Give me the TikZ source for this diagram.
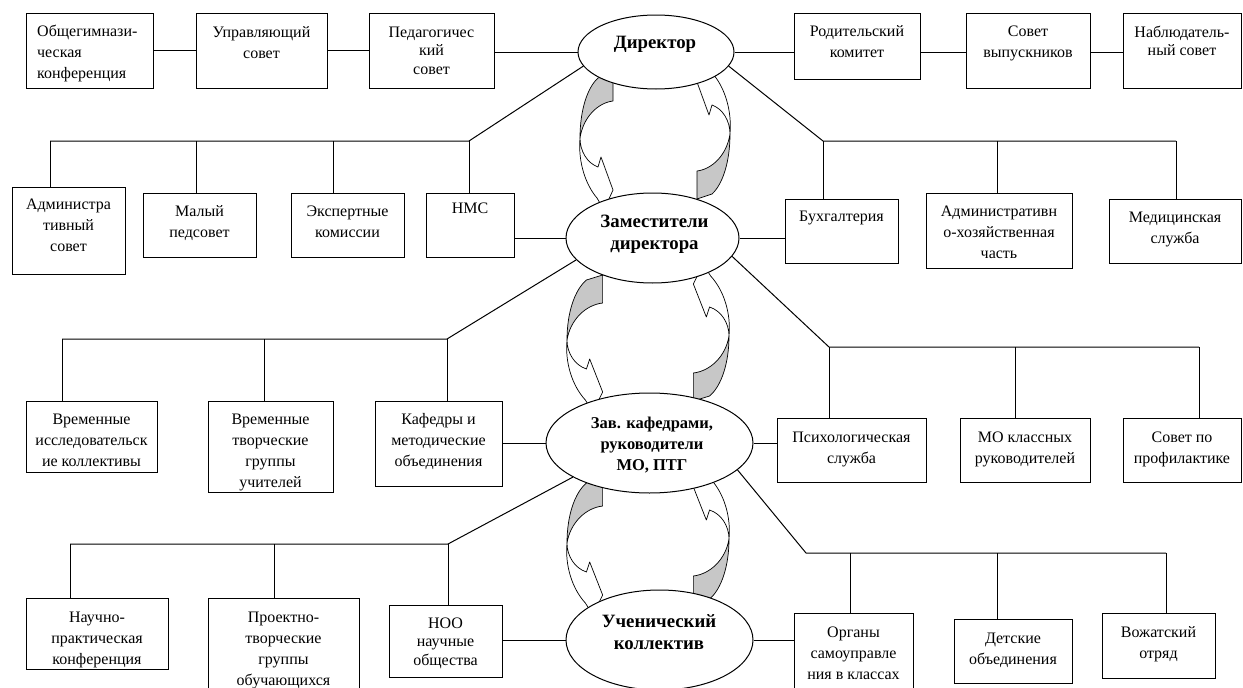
\documentclass[tikz,border=0pt]{standalone}
\usepackage{fontspec}
\setmainfont{Liberation Serif}
\usetikzlibrary{shapes.geometric}
\tikzset{
  box/.style={draw=black, line width=1pt, fill=white, inner sep=0pt},
  txt/.style={font=\fontsize{16}{21}\selectfont, align=center, inner sep=0pt, anchor=base},
  tighttxt/.style={font=\fontsize{16}{18.5}\selectfont, align=center, inner sep=0pt, anchor=base},
  ell/.style={draw=black, ellipse, line width=1pt, fill=white, inner sep=0pt},
  etxt/.style={font=\fontsize{18.8}{22}\selectfont\bfseries, align=center, inner sep=0pt, anchor=base},
  etxtsmall/.style={font=\fontsize{16.5}{21}\selectfont\bfseries, align=center, inner sep=0pt, anchor=base},
  link/.style={draw=black, line width=1pt},
  grayface/.style={draw=black, line width=0.7pt, fill=black!22, line join=round},
  whiteface/.style={draw=black, line width=0.7pt, fill=white, line join=round},
}
\newcommand\bx[5]{\node[box, minimum width={#4-#2}, minimum height={#5-#3}] (#1) at ({(#2+#4)/2},{(#3+#5)/2}) {};}
\newcommand\drop[4]{\coordinate (#1) at (#2,#3); \draw[link] (#1) -- (#1 |- #4.north);}
\newcommand\halfarrow{%
  \path[whiteface] (-75,2) .. controls (-77,25) and (-70,48) .. (-58,62) -- (-51,74) -- (-42,54) -- (-54,21) -- (-57,31) .. controls (-68,27) and (-75,15) .. cycle;
  \path[grayface] (-57,-58) -- (-42,-63) -- (-42,-35) .. controls (-58,-33) and (-72,-18) .. (-75,2) .. controls (-75,-25) and (-68,-48) .. cycle;}
\newcommand\arrowpair[3]{\begin{scope}[shift={(#1,#2)}, xscale=#3]\halfarrow\begin{scope}[rotate=180]\halfarrow\end{scope}\end{scope}}
\begin{document}
\begin{tikzpicture}[x=1pt,y=-1pt]
\useasboundingbox (0,0) rectangle (1243,688);
\clip (0,0) rectangle (1243,688);
% curved arrows
\arrowpair{655}{136}{1}
\arrowpair{648}{338}{1.08}
\arrowpair{648}{541}{1.08}
% ellipses
\node[ell, minimum width=156, minimum height=74] (E1) at (656,52) {};
\node[ell, minimum width=173, minimum height=90] (E2) at (652.5,238) {};
\node[ell, minimum width=207, minimum height=100] (E3) at (649.5,443) {};
\node[ell, minimum width=187, minimum height=100] (E4) at (659.5,640) {};
% boxes
\bx{b1}{26}{13}{153}{88}
\bx{b2}{196}{13}{327}{88}
\bx{b3}{369}{13}{494}{88}
\bx{r1}{794}{13}{920}{79}
\bx{r2}{966}{13}{1090}{88}
\bx{r3}{1123}{13}{1241}{88}
\bx{a1}{12}{187}{125}{274}
\bx{a2}{143}{193}{256}{257}
\bx{a3}{291}{193}{404}{257}
\bx{a4}{426}{193}{514}{257}
\bx{a5}{785}{199}{898}{263}
\bx{a6}{926}{193}{1072}{268}
\bx{a7}{1109}{199}{1241}{263}
\bx{c1}{26}{401}{157}{472}
\bx{c2}{208}{401}{333}{492}
\bx{c3}{375}{401}{502}{486}
\bx{c4}{777}{418}{926}{482}
\bx{c5}{960}{418}{1090}{482}
\bx{c6}{1123}{418}{1241}{482}
\bx{d1}{26}{598}{168}{669}
\bx{d2}{208}{598}{359}{700}
\bx{d3}{389}{605}{502}{677}
\bx{d4}{794}{613}{913}{700}
\bx{d5}{954}{619}{1072}{683}
\bx{d6}{1102}{613}{1215}{678}
% top row links
\draw[link] (b1.east) -- (b2.west);
\draw[link] (b2.east) -- (b3.west);
\draw[link] (E1.west -| b3.east) -- (E1.west);
\draw[link] (E1.east) -- (E1.east -| r1.west);
\draw[link] (E1.east -| r1.east) -- (E1.east -| r2.west);
\draw[link] (E1.east -| r2.east) -- (E1.east -| r3.west);
% row 2
\drop{v11}{50}{141}{a1} \drop{v12}{196}{141}{a2} \drop{v13}{333}{141}{a3} \drop{k1}{469}{141}{a4}
\draw[link] (E1.191) -- (k1) -- (v11);
\drop{k2}{823}{141}{a5} \drop{v22}{997}{141}{a6} \drop{v23}{1176}{141}{a7}
\draw[link] (E1.349) -- (k2) -- (v23);
\draw[link] (E2.west -| a4.east) -- (E2.west);
\draw[link] (E2.east) -- (E2.east -| a5.west);
% row 3
\drop{v31}{62}{339}{c1} \drop{v32}{264}{339}{c2} \drop{k3}{447}{339}{c3}
\draw[link] (E2.196) -- (k3) -- (v31);
\drop{k4}{829}{347}{c4} \drop{v42}{1015}{347}{c5} \drop{v43}{1199}{347}{c6}
\draw[link] (E2.347) -- (k4) -- (v43);
\draw[link] (E3.west -| c3.east) -- (E3.west);
\draw[link] (E3.east) -- (E3.east -| c4.west);
% row 4
\drop{v51}{70}{544}{d1} \drop{v52}{274}{544}{d2} \drop{k5}{448}{544}{d3}
\draw[link] (E3.204) -- (k5) -- (v51);
\coordinate (k6) at (806,553);
\drop{v61}{850}{553}{d4} \drop{v62}{997}{553}{d5} \drop{v63}{1166}{553}{d6}
\draw[link] (E3.343) -- (k6) -- (v63);
\draw[link] (E4.west -| d3.east) -- (E4.west);
\draw[link] (E4.east) -- (E4.east -| d4.west);
% ellipse texts (anchored at the baseline of the last line)
\node[etxt] (tE1) at (655,48) {Директор};
\node[etxt] (tE2) at (654.5,249) {Заместители\\директора};
\node[etxtsmall] (tE3) at (652,470) {Зав. кафедрами,\\руководители\\МО, ПТГ};
\node[etxt] (tE4) at (659,649) {Ученический\\коллектив};
% box texts (anchored at the baseline of the last line)
\node[txt, align=left, anchor=base west] (tb1) at (37,78) {Общегимнази-\\ческая\\конференция};
\node[txt] (tb2) at (261.5,58) {Управляющий\\совет};
\node[tighttxt] (tb3) at (431.5,74) {Педагогичес\\кий\\совет};
\node[txt] (tr1) at (857,57) {Родительский\\комитет};
\node[txt] (tr2) at (1028,57) {Совет\\выпускников};
\node[tighttxt] (tr3) at (1182,55.5) {Наблюдатель-\\ный совет};
\node[txt] (ta1) at (68.5,251) {Администра\\тивный\\совет};
\node[txt] (ta2) at (199.5,237) {Малый\\педсовет};
\node[txt] (ta3) at (347.5,237) {Экспертные\\комиссии};
\node[txt] (ta4) at (470,213) {НМС};
\node[txt] (ta5) at (841.5,221) {Бухгалтерия};
\node[txt] (ta6) at (999,258) {Административн\\о-хозяйственная\\часть};
\node[txt] (ta7) at (1175,243) {Медицинская\\служба};
\node[txt] (tc1) at (91.5,466) {Временные\\исследовательск\\ие коллективы};
\node[txt] (tc2) at (270.5,487) {Временные\\творческие\\группы\\учителей};
\node[txt] (tc3) at (438.5,466) {Кафедры и\\методические\\объединения};
\node[txt] (tc4) at (851.5,463) {Психологическая\\служба};
\node[txt] (tc5) at (1025,463) {МО классных\\руководителей};
\node[txt] (tc6) at (1182,463) {Совет по\\профилактике};
\node[txt] (td1) at (97,664) {Научно-\\практическая\\конференция};
\node[txt] (td2) at (283.5,685) {Проектно-\\творческие\\группы\\обучающихся};
\node[tighttxt] (td3) at (445.5,665) {НОО\\научные\\общества};
\node[txt] (td4) at (853.5,679) {Органы\\самоуправле\\ния в классах};
\node[txt] (td5) at (1013,664) {Детские\\объединения};
\node[txt] (td6) at (1158.5,658) {Вожатский\\отряд};
\end{tikzpicture}
\end{document}
